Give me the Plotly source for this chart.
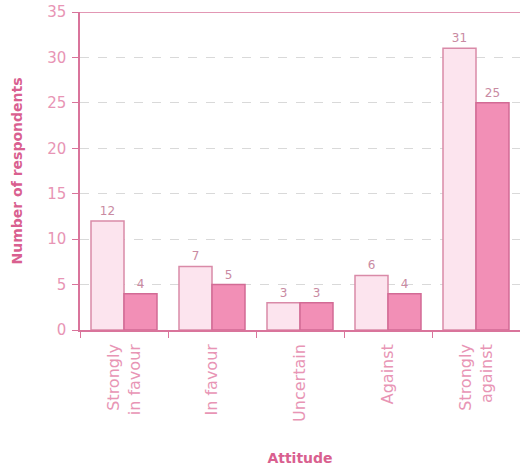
import plotly.graph_objects as go

# ── Data ───────────────────────────────────────────────────────────
categories = ["Strongly<br>in favour", "In favour", "Uncertain", "Against", "Strongly<br>against"]
series_a = [12, 7, 3, 6, 31]
series_b = [4, 5, 3, 4, 25]
y_ticks = [0, 5, 10, 15, 20, 25, 30, 35]

_PINK = "#d9749b"
_PINK_TEXT = "#e895b5"
_TITLE = "#d9608f"
_LIGHT_FILL = "#fce4ee"
_LIGHT_LINE = "#d98aa8"
_DARK_FILL = "#f28fb6"
_DARK_LINE = "#d26b95"
_FONT = "'DejaVu Sans', sans-serif"

fig = go.Figure()
for values, fill, edge in [(series_a, _LIGHT_FILL, _LIGHT_LINE), (series_b, _DARK_FILL, _DARK_LINE)]:
    fig.add_trace(
        go.Bar(
            x=categories,
            y=values,
            marker={"color": fill, "line": {"color": edge, "width": 1.5}},
            text=values,
            textposition="outside",
            textfont={"color": "#c98aa2", "size": 12},
            cliponaxis=False,
        )
    )

fig.update_layout(
    width=520,
    height=472,
    margin={"l": 80, "r": 0, "t": 12, "b": 142},
    paper_bgcolor="white",
    plot_bgcolor="white",
    font={"family": _FONT, "color": _PINK_TEXT, "size": 14},
    barmode="group",
    bargap=0.25,
    bargroupgap=0,
    showlegend=False,
    xaxis={
        "tickangle": -90,
        "tickson": "boundaries",
        "ticks": "outside",
        "ticklen": 6,
        "tickcolor": _PINK,
        "ticklabelstandoff": 6,
        "showline": True,
        "linecolor": _PINK,
        "linewidth": 1.5,
        "showgrid": False,
        "tickfont": {"size": 16, "color": _PINK_TEXT},
        "title": {
            "text": "<b>Attitude</b>",
            "font": {"size": 14, "color": _TITLE},
            "standoff": 32,
        },
        "automargin": False,
    },
    yaxis={
        "range": [0, 35],
        "tickvals": y_ticks,
        "ticks": "outside",
        "ticklen": 6,
        "tickcolor": _PINK,
        "ticklabelstandoff": 3,
        "ticklabeloverflow": "allow",
        "showline": True,
        "linecolor": _PINK,
        "linewidth": 1.5,
        "showgrid": True,
        "gridcolor": "#d9d9d9",
        "griddash": "dash",
        "gridwidth": 1,
        "zeroline": False,
        "tickfont": {"size": 15, "color": _PINK_TEXT},
        "title": {
            "text": "<b>Number of respondents</b>",
            "font": {"size": 14, "color": _TITLE},
            "standoff": 21,
        },
        "automargin": False,
    },
)

# solid top border at the 35 line
fig.add_shape(
    type="line", xref="paper", yref="y", x0=0, x1=1, y0=35, y1=35,
    line={"color": _PINK, "width": 1.5},
)

# drop the default 8px body margin so the figure sits at the page corner
fig.write_html(
    "out.html",
    config={"displayModeBar": False},
    post_script="document.body.style.margin='0';",
)
